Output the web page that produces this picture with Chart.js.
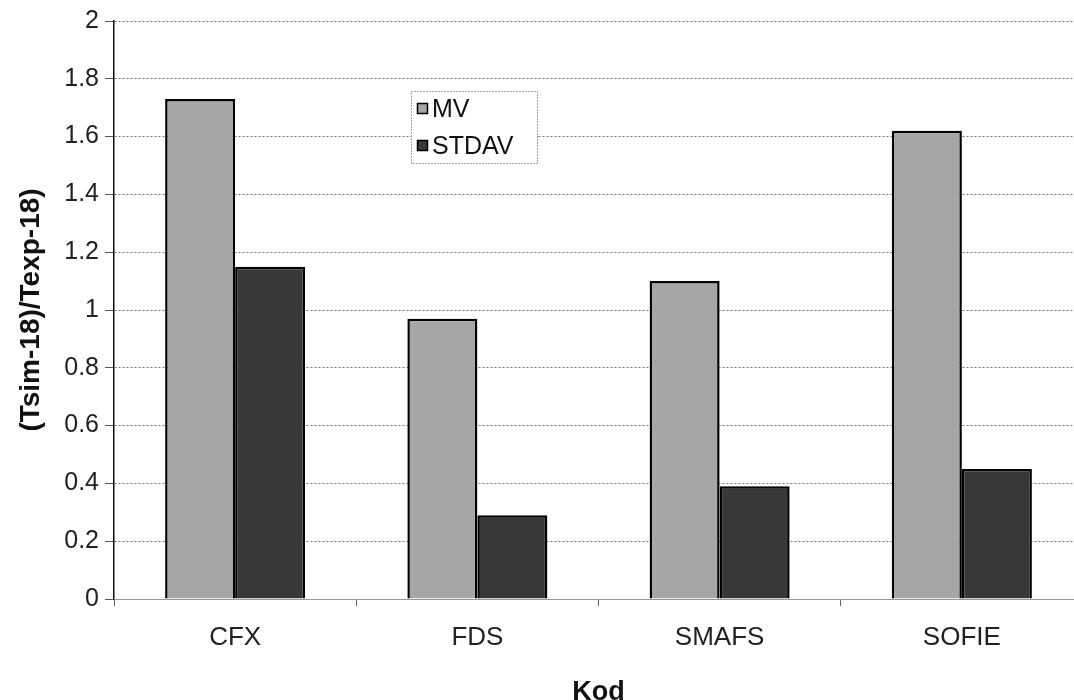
<!DOCTYPE html>
<html>
<head>
<meta charset="utf-8">
<script src="https://cdn.jsdelivr.net/npm/chart.js"></script>
<style>
  html, body { margin: 0; padding: 0; background: #fff; overflow: hidden; }
  #chart-wrapper { width: 1100px; height: 700px; }
</style>
</head>
<body>
<div id="chart-wrapper">
  <canvas id="my-chart" width="1100" height="700"></canvas>
</div>
<script>
// values
var labels = ['CFX', 'FDS', 'SMAFS', 'SOFIE'];
var mv_values = [1.73, 0.97, 1.10, 1.62];
var stdav_values = [1.15, 0.29, 0.39, 0.45];
var series_names = ['MV', 'STDAV'];
var y_ticks = [0, 0.2, 0.4, 0.6, 0.8, 1, 1.2, 1.4, 1.6, 1.8, 2];

const FONT = '"Liberation Sans", Arial, sans-serif';
const ctx = document.getElementById('my-chart');

// excel style legend box sitting inside the plot
const boxLegend = {
  id: 'boxLegend',
  afterDraw(chart) {
    const c = chart.ctx;
    const x0 = 411, y0 = 91, w = 126, h = 72;
    c.save();
    c.fillStyle = '#fff';
    c.fillRect(x0, y0, w, h);
    c.setLineDash([1, 2]);
    c.strokeStyle = '#444';
    c.lineWidth = 1;
    c.strokeRect(x0 + 0.5, y0 + 0.5, w, h);
    c.setLineDash([]);
    c.font = '25px ' + FONT;
    c.textBaseline = 'middle';
    chart.data.datasets.forEach(function(ds, i) {
      const cy = 109 + i * 37;
      c.fillStyle = ds.backgroundColor;
      c.fillRect(417, cy - 6, 11, 11);
      c.strokeStyle = '#000';
      c.lineWidth = 1.5;
      c.strokeRect(417.5, cy - 5.5, 10, 10);
      c.fillStyle = '#111';
      c.fillText(ds.label, 432, cy + 1);
    });
    c.restore();
  }
};

var chart = new Chart(ctx, {
  type: 'bar',
  data: {
    labels: labels,
    datasets: [
      {
        label: series_names[0],
        data: mv_values,
        backgroundColor: '#a6a6a6',
        borderColor: '#000',
        borderWidth: 2.5,
        categoryPercentage: 0.578,
        barPercentage: 1.0
      },
      {
        label: series_names[1],
        data: stdav_values,
        backgroundColor: '#383838',
        borderColor: '#000',
        borderWidth: 2.5,
        categoryPercentage: 0.578,
        barPercentage: 1.0
      }
    ]
  },
  options: {
    responsive: false,
    animation: false,
    layout: { padding: { top: 14, left: 0, right: 17, bottom: 0 } },
    plugins: {
      legend: { display: false },
      tooltip: { enabled: false }
    },
    scales: {
      x: {
        afterFit: function(scale) { scale.height = 101; },
        grid: {
          offset: true,
          drawOnChartArea: false,
          drawTicks: true,
          tickLength: 7,
          tickColor: '#666'
        },
        border: { display: true, color: '#999', width: 1 },
        ticks: {
          color: '#222',
          padding: 16,
          font: { family: FONT, size: 26 }
        },
        title: {
          display: true,
          text: 'Kod',
          color: '#111',
          padding: { top: 0, bottom: -6 },
          font: { family: FONT, size: 27, weight: 'bold', lineHeight: 1.0 }
        }
      },
      y: {
        min: 0,
        max: 2,
        afterFit: function(scale) { scale.width = 114; },
        afterBuildTicks: function(scale) {
          scale.ticks = y_ticks.map(function(v) { return { value: v }; });
        },
        grid: {
          color: '#777',
          lineWidth: 1,
          drawTicks: true,
          tickLength: 9,
          tickColor: '#555'
        },
        border: { display: true, color: '#111', width: 1.5, dash: [2, 2] },
        ticks: {
          color: '#222',
          padding: 6,
          font: { family: FONT, size: 25 },
          callback: function(v) { return String(Math.round(v * 10) / 10); }
        },
        title: {
          display: true,
          text: '(Tsim-18)/Texp-18)',
          color: '#111',
          padding: { top: 17, bottom: 0 },
          font: { family: FONT, size: 28, weight: 'bold', lineHeight: 1.0 }
        }
      }
    }
  },
  plugins: [boxLegend]
});
</script>
</body>
</html>
